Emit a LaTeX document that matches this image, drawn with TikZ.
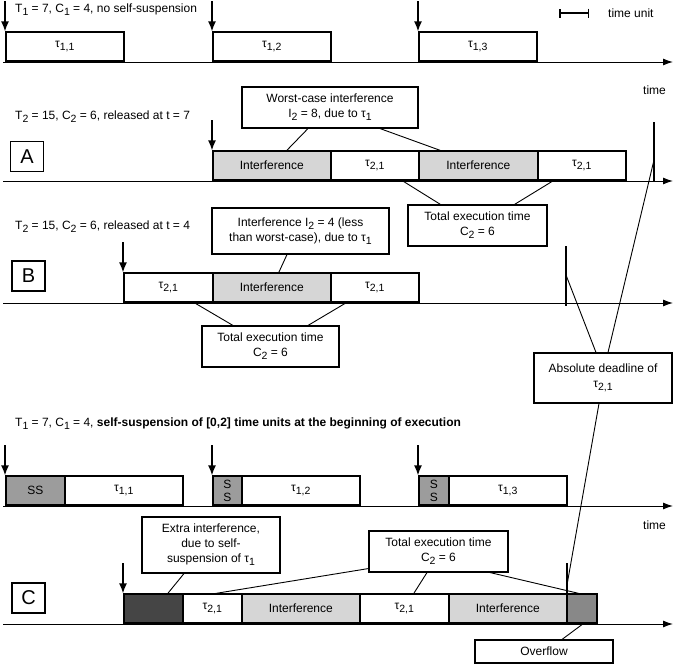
\documentclass[tikz,border=0pt]{standalone}
\usepackage{fontspec}
\setmainfont{Liberation Sans}
\usetikzlibrary{arrows.meta,positioning}
\definecolor{interfgray}{HTML}{D6D6D6}
\definecolor{suspgray}{HTML}{9C9C9C}
\definecolor{extradark}{HTML}{454545}
\definecolor{overgray}{HTML}{888888}
\newcommand{\tsub}[1]{\raisebox{-0.5ex}{\fontsize{10.5}{11}\selectfont #1}}
\tikzset{
  bar/.style={
    rectangle, draw=black, line width=1.6pt, anchor=south west,
    inner sep=0pt, minimum height=29pt, fill=white,
    font=\fontsize{12}{14}\selectfont, align=center
  },
  callout/.style={
    rectangle, draw=black, line width=1.1pt, fill=white,
    inner sep=0pt, align=center, font=\fontsize{12}{15}\selectfont
  },
  casebox/.style={
    rectangle, draw=black, line width=1.5pt, inner sep=0pt,
    minimum width=33pt, minimum height=30pt, font=\fontsize{20}{22}\selectfont
  },
  tasklabel/.style={anchor=west, inner sep=0pt, font=\fontsize{12}{14}\selectfont},
  release/.style={-{Latex[length=10pt,width=8pt]}, line width=1.5pt},
  timeaxis/.style={-{Latex[length=10pt,width=7pt]}, line width=1pt},
  deadline/.style={line width=2pt},
  pointer/.style={line width=0.9pt},
}

\begin{document}
\begin{tikzpicture}[x=1pt,y=-1pt]
  \useasboundingbox (0,0) rectangle (673,664);

  % time unit
  \coordinate (tuL) at (559,13);
  \coordinate (tuR) at (589,13);
  \draw[{Bar[width=9pt]}-{Bar[width=9pt]}, line width=1.5pt] (tuL) -- (tuR);
  \node[tasklabel] (tulabel) at (608,13) {time unit};

  % ---- tau_1 without self-suspension
  \node[tasklabel] (lab1) at (15,10) {T\tsub{1} = 7, C\tsub{1} = 4, no self-suspension};
  \coordinate (ax1s) at (3,62);
  \coordinate (ax1e) at (673,62);
  \draw[timeaxis] (ax1s) -- (ax1e);
  \node[tasklabel] (time1) at (643,90) {time};
  \foreach \nm/\x/\w/\fl/\txt in {t11/5/118/white/{τ\tsub{1,1}},
                                  t12/212/118/white/{τ\tsub{1,2}},
                                  t13/418/118/white/{τ\tsub{1,3}}}
    \node[bar, fill=\fl, minimum width=\w] (\nm) at (\x,62) {\txt};
  \foreach \nm in {t11,t12,t13}
    \draw[release] ([yshift=30pt]\nm.north west) -- (\nm.north west);

  % ---- case A
  \node[tasklabel] (labA) at (15,117) {T\tsub{2} = 15, C\tsub{2} = 6, released at t = 7};
  \node[casebox] (caseA) at (27,156.5) {A};
  \coordinate (axAs) at (3,181);
  \coordinate (axAe) at (673,181);
  \draw[timeaxis] (axAs) -- (axAe);
  \foreach \nm/\x/\w/\fl/\txt in {iA1/212/118/interfgray/Interference,
                                  tA1/330/88/white/{τ\tsub{2,1}},
                                  iA2/418/119/interfgray/Interference,
                                  tA2/537/88/white/{τ\tsub{2,1}}}
    \node[bar, fill=\fl, minimum width=\w] (\nm) at (\x,181) {\txt};
  \draw[release] ([yshift=30pt]iA1.north west) -- (iA1.north west);
  \coordinate (dlA) at (654,122);
  \coordinate (dlAb) at (654,181);
  \coordinate (hitA) at (654,160);
  \draw[deadline] (dlA) -- (dlAb);

  \node[callout, minimum width=176pt, minimum height=41pt] (wcA) at (330,107.5)
    {Worst-case interference\\I\tsub{2} = 8, due to τ\tsub{1}};
  \draw[pointer] ([xshift=-22pt]wcA.south) -- ([xshift=15pt]iA1.north);
  \draw[pointer] ([xshift=50pt]wcA.south) -- ([xshift=-38pt]iA2.north);
  \node[callout, minimum width=139pt, minimum height=41pt] (totA) at (477.5,225.5)
    {Total execution time\\C\tsub{2} = 6};
  \draw[pointer] ([xshift=-37pt]totA.north) -- ([xshift=28pt]tA1.south);
  \draw[pointer] ([xshift=37pt]totA.north) -- ([xshift=-29pt]tA2.south);

  % ---- case B
  \node[tasklabel] (labB) at (15,227) {T\tsub{2} = 15, C\tsub{2} = 6, released at t = 4};
  \node[casebox] (caseB) at (28.5,276) {B};
  \coordinate (axBs) at (3,303);
  \coordinate (axBe) at (673,303);
  \draw[timeaxis] (axBs) -- (axBe);
  \foreach \nm/\x/\w/\fl/\txt in {tB1/123/89/white/{τ\tsub{2,1}},
                                  iB/212/118/interfgray/Interference,
                                  tB2/330/88/white/{τ\tsub{2,1}}}
    \node[bar, fill=\fl, minimum width=\w] (\nm) at (\x,303) {\txt};
  \draw[release] ([yshift=30pt]tB1.north west) -- (tB1.north west);
  \coordinate (dlB) at (566,246);
  \coordinate (dlBb) at (566,306);
  \coordinate (hitB) at (566,275);
  \draw[deadline] (dlB) -- (dlBb);

  \node[callout, minimum width=177pt, minimum height=46pt] (ifB) at (300.5,231)
    {Interference I\tsub{2} = 4 (less\\than worst-case), due to τ\tsub{1}};
  \draw[pointer] ([xshift=-13.5pt]ifB.south) -- ([xshift=7pt]iB.north);
  \node[callout, minimum width=137pt, minimum height=41pt] (totB) at (270.5,346.5)
    {Total execution time\\C\tsub{2} = 6};
  \draw[pointer] ([xshift=-37.5pt]totB.north) -- ([xshift=26.5pt]tB1.south);
  \draw[pointer] ([xshift=37.5pt]totB.north) -- ([xshift=-29pt]tB2.south);

  % absolute deadline
  \node[callout, minimum width=138pt, minimum height=50pt] (absDL) at (603,378)
    {Absolute deadline of\\τ\tsub{2,1}};
  \coordinate (hitC) at (567,585);
  \draw[pointer] ([xshift=-7pt]absDL.north) -- (hitB);
  \draw[pointer] ([xshift=5pt]absDL.north) -- (hitA);
  \draw[pointer] ([xshift=-4pt]absDL.south) -- (hitC);

  % ---- tau_1 with self-suspension
  \node[tasklabel] (lab2) at (15,424) {T\tsub{1} = 7, C\tsub{1} = 4,
    \textbf{self-suspension of [0,2] time units at the beginning of execution}};
  \coordinate (ax2s) at (3,506);
  \coordinate (ax2e) at (673,506);
  \draw[timeaxis] (ax2s) -- (ax2e);
  \node[tasklabel] (time2) at (643,525) {time};
  \foreach \nm/\x/\w/\fl/\txt in {ss1/5/59/suspgray/SS,
                                  c11/64/118/white/{τ\tsub{1,1}},
                                  ss2/212/29/suspgray/{S\\S},
                                  c12/241/118/white/{τ\tsub{1,2}},
                                  ss3/418/30/suspgray/{S\\S},
                                  c13/448/118/white/{τ\tsub{1,3}}}
    \node[bar, fill=\fl, minimum width=\w, font=\fontsize{12}{13}\selectfont] (\nm) at (\x,506) {\txt};
  \foreach \nm in {ss1,ss2,ss3}
    \draw[release] ([yshift=30pt]\nm.north west) -- (\nm.north west);

  % ---- case C
  \node[casebox] (caseC) at (28.5,598) {C};
  \coordinate (axCs) at (3,624);
  \coordinate (axCe) at (673,624);
  \draw[timeaxis] (axCs) -- (axCe);
  \foreach \nm/\x/\w/\fl/\txt in {ex/123/59/extradark/{},
                                  tC1/182/59/white/{τ\tsub{2,1}},
                                  iC1/241/118/interfgray/Interference,
                                  tC2/359/89/white/{τ\tsub{2,1}},
                                  iC2/448/118/interfgray/Interference,
                                  ov/566/30/overgray/{}}
    \node[bar, fill=\fl, minimum width=\w] (\nm) at (\x,624) {\txt};
  \draw[release] ([yshift=30pt]ex.north west) -- (ex.north west);
  \coordinate (dlC) at (567,563);
  \coordinate (dlCb) at (567,624);
  \draw[deadline] (dlC) -- (dlCb);

  \node[callout, minimum width=138pt, minimum height=56pt] (exC) at (211,545)
    {Extra interference,\\due to self-\\suspension of τ\tsub{1}};
  \draw[pointer] ([xshift=-27pt]exC.south) -- ([xshift=14.5pt]ex.north);
  \node[callout, minimum width=139pt, minimum height=41pt] (totC) at (438.5,551.5)
    {Total execution time\\C\tsub{2} = 6};
  \draw[pointer] ([yshift=4pt]totC.south west) -- ([xshift=3.5pt]tC1.north);
  \draw[pointer] ([xshift=-11.5pt]totC.south) -- ([xshift=9.5pt]tC2.north);
  \draw[pointer] ([xshift=51.5pt]totC.south) -- ([xshift=-3pt]ov.north);
  \node[callout, minimum width=138pt, minimum height=23pt] (ovf) at (544,651.5) {Overflow};
  \draw[pointer] ([xshift=18pt]ovf.north) -- ([xshift=1pt]ov.south);
\end{tikzpicture}
\end{document}
